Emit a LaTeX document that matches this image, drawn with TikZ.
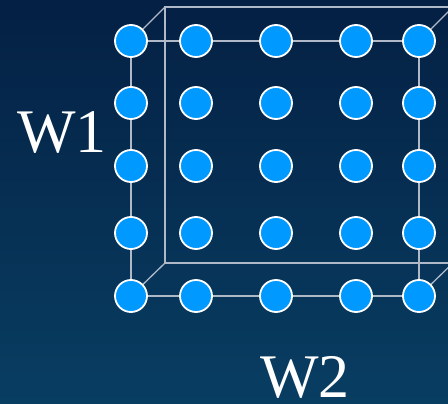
\documentclass[tikz,border=0pt]{standalone}
\usepackage{fontspec}
\setmainfont{Liberation Serif}
\definecolor{bgtop}{RGB}{4,32,68}
\definecolor{bgbot}{RGB}{8,62,98}
\definecolor{dotfill}{RGB}{0,153,255}
\definecolor{edgegray}{RGB}{175,185,200}
\tikzset{
  dot/.style={circle,fill=dotfill,draw=white,line width=1.8pt,minimum size=32pt,inner sep=0pt},
  frame/.style={draw=edgegray,line width=1.3pt},
  lbl/.style={text=white,font=\fontsize{62}{62}\selectfont,inner sep=0pt,anchor=base,text depth=0pt}
}
\begin{document}
\begin{tikzpicture}[x=1pt,y=-1pt]
\shade[top color=bgtop,bottom color=bgbot] (0,0) rectangle (448,404);
\useasboundingbox (0,0) rectangle (448,404);
% back square
\coordinate (b1) at (165,7);
\coordinate (b2) at (453,7);
\coordinate (b3) at (453,263);
\coordinate (b4) at (165,263);
\draw[frame] (b2) -- (b1) -- (b4) -- (b3);
% dots
\foreach \c/\x in {1/131,2/196,3/276,4/356,5/419}{
  \foreach \r/\y in {1/41,2/103,3/166,4/233,5/296}{
    \coordinate (p\r\c) at (\x,\y);
  }
}
\draw[frame] (p11) -- (p15) -- (p55) -- (p51) -- cycle;
\draw[frame] (p11) -- (b1);
\draw[frame] (p15) -- (b2);
\draw[frame] (p55) -- (b3);
\draw[frame] (p51) -- (b4);
\foreach \c in {1,...,5}{
  \foreach \r in {1,...,5}{
    \node[dot] (n\r\c) at (p\r\c) {};
  }
}
\node[lbl] (w1) at (62,153) {W1};
\node[lbl] (w2) at (305,397) {W2};
\end{tikzpicture}
\end{document}
